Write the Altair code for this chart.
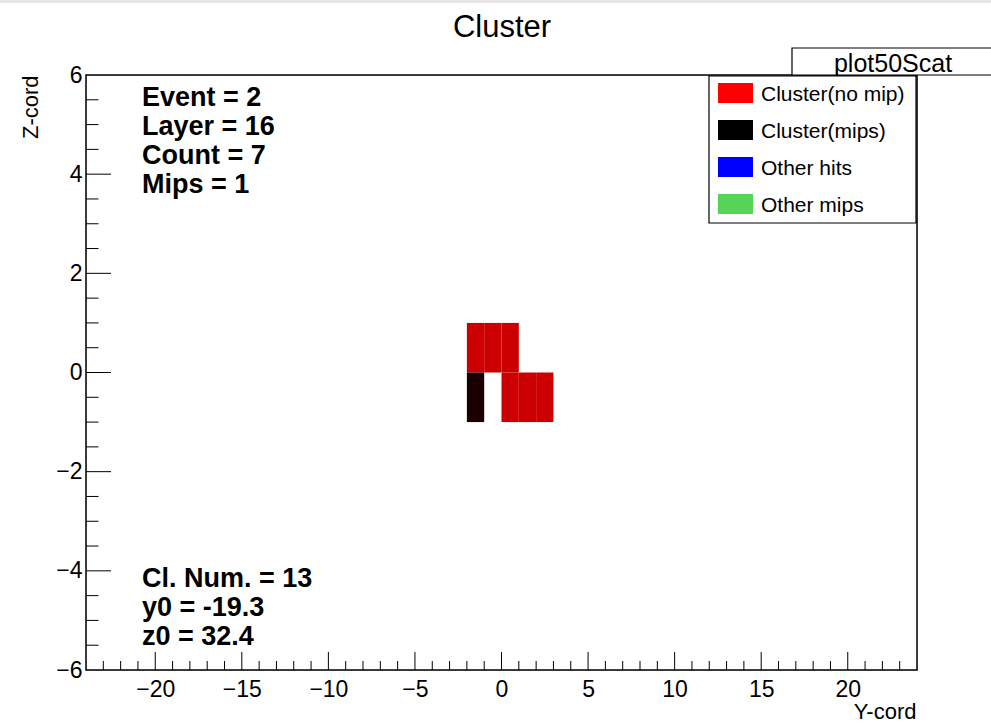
import altair as alt
import pandas as pd

# ---- data ----
cell_y = [-2, -1, 0, -2, 0, 1, 2]          # lower edge of cell along Y-cord
cell_z = [0, 0, 0, -1, -1, -1, -1]         # lower edge of cell along Z-cord
cell_type = ["Cluster(no mip)", "Cluster(no mip)", "Cluster(no mip)", "Cluster(mips)",
             "Cluster(no mip)", "Cluster(no mip)", "Cluster(no mip)"]
cell_domain = ["Cluster(no mip)", "Cluster(mips)"]
cell_colors = ["#cc0000", "#1a0000"]

legend_labels = ["Cluster(no mip)", "Cluster(mips)", "Other hits", "Other mips"]
legend_colors = ["#ff0000", "#000000", "#0000ff", "#55d455"]

top_lines = ["Event = 2", "Layer = 16", "Count = 7", "Mips = 1"]
bottom_lines = ["Cl. Num. = 13", "y0 = -19.3", "z0 = 32.4"]

x_major = [-20, -15, -10, -5, 0, 5, 10, 15, 20]
x_minor = [v for v in range(-23, 24) if v % 5 != 0]
y_major = [-4, -2, 0, 2, 4]
y_minor = [v / 2 for v in range(-11, 12) if v % 4 != 0]

X_DOMAIN = [-24, 24]
Y_DOMAIN = [-6, 6]

W, H = 831, 595
FONT = "Liberation Sans"

cells = pd.DataFrame({"y": cell_y, "z": cell_z, "type": cell_type})

xs = alt.Scale(domain=X_DOMAIN, nice=False, zero=False)
ys = alt.Scale(domain=Y_DOMAIN, nice=False, zero=False)

base_x_axis = alt.Axis(values=x_major, ticks=False, domain=False, grid=False,
                       labelFontSize=23, labelFont=FONT, labelPadding=8, labelColor="#000",
                       title="Y-cord", titleFont=FONT, titleFontSize=22, titleFontWeight="normal",
                       titleX=W - 1, titleY=41, titleAlign="right", titleBaseline="middle",
                       titleColor="#000")
base_y_axis = alt.Axis(values=[-6, -4, -2, 0, 2, 4, 6], ticks=False, domain=False, grid=False,
                       labelFontSize=23, labelFont=FONT, labelPadding=4, labelColor="#000",
                       title="Z-cord", titleFont=FONT, titleFontSize=22, titleFontWeight="normal",
                       titleX=-56, titleY=0, titleAlign="right", titleBaseline="middle",
                       titleAngle=270, titleColor="#000")

rects = alt.Chart(cells).transform_calculate(
    y2="datum.y + 1", z2="datum.z + 1"
).mark_rect(strokeWidth=0).encode(
    x=alt.X("y:Q", scale=xs, axis=base_x_axis),
    x2="y2:Q",
    y=alt.Y("z:Q", scale=ys, axis=base_y_axis),
    y2="z2:Q",
    color=alt.Color("type:N", scale=alt.Scale(domain=cell_domain, range=cell_colors), legend=None),
)

layers = [rects]

# inward ticks
def xticks(vals, length):
    return alt.Chart(pd.DataFrame({"v": vals})).mark_rule(color="#000", strokeWidth=1).encode(
        x=alt.X("v:Q", scale=xs), y=alt.value(H), y2=alt.value(H - length))

def yticks(vals, length):
    return alt.Chart(pd.DataFrame({"v": vals})).mark_rule(color="#000", strokeWidth=1).encode(
        y=alt.Y("v:Q", scale=ys), x=alt.value(0), x2=alt.value(length))

layers += [xticks(x_major, 18), xticks(x_minor, 9), yticks(y_major, 25), yticks(y_minor, 12.5)]

one = pd.DataFrame({"a": [0]})

def box(x1, x2, y1, y2, fill, stroke=None, sw=0):
    kw = dict(fill=fill)
    if stroke:
        kw.update(stroke=stroke, strokeWidth=sw)
    return alt.Chart(one).mark_rect(**kw).encode(
        x=alt.value(x1), x2=alt.value(x2), y=alt.value(y1), y2=alt.value(y2))

def label(txt, x, y, size, align="left", weight="normal"):
    return alt.Chart(one).mark_text(text=txt, font=FONT, fontSize=size, fontWeight=weight,
                                    align=align, baseline="middle", color="#000").encode(
        x=alt.value(x), y=alt.value(y))

# plot frame
layers.append(box(0, W, 0, H, "transparent", "#000", 1.5))
# top gray strip
layers.append(box(-86, 905, -75, -72, "#e6e6e6"))
# title
layers.append(label("Cluster", 416, -47, 31, align="center"))
# stats box
layers.append(box(706, 912, -27, 0, "#ffffff", "#000", 1.2))
layers.append(label("plot50Scat", 807, -11, 25, align="center"))
# legend box
layers.append(box(623, 830, 1, 148, "#ffffff", "#000", 1.2))
row_y = [8, 45, 82, 119]
for lab, col, ry in zip(legend_labels, legend_colors, row_y):
    layers.append(box(632, 667, ry, ry + 20, col))
    layers.append(label(lab, 675, ry + 12, 21))

# annotations
for i, t in enumerate(top_lines):
    layers.append(label(t, 56, 23 + 29 * i, 27, weight="bold"))
for i, t in enumerate(bottom_lines):
    layers.append(label(t, 56, 504 + 29 * i, 27, weight="bold"))

chart = alt.layer(*layers).properties(
    width=W, height=H,
    autosize=alt.AutoSizeParams(type="none"),
    padding={"left": 86, "top": 75, "right": 991 - 86 - W, "bottom": 723 - 75 - H},
).configure_view(stroke=None).configure(background="#ffffff")

chart.save("out.html", embed_options={"renderer": "svg", "actions": False})
